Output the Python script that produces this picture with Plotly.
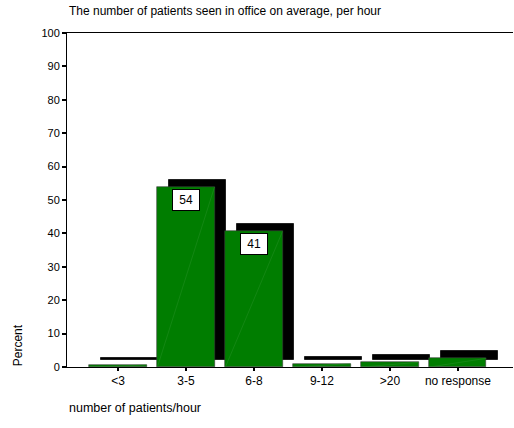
import plotly.graph_objects as go

categories = ["<3", "3-5", "6-8", "9-12", ">20", "no response"]
percent = [0.6, 53.9, 40.6, 1.0, 1.4, 2.6]
labels = ["", "54", "41", "", "", ""]
title_text = "The number of patients seen in office on average, per hour"
x_title = "number of patients/hour"
y_title = "Percent"

BAR_W = 0.84
SHADOW_DX = 0.17   # category units
SHADOW_DY = 2.1    # percent units

FONT = "Liberation Sans, Arial, sans-serif"

fig = go.Figure()
# 3D shadow behind bars
fig.add_trace(go.Bar(
    x=categories, y=percent, base=SHADOW_DY,
    width=BAR_W, offset=-BAR_W / 2 + SHADOW_DX,
    marker=dict(color="black", line=dict(color="#222222", width=1)),
    hoverinfo="skip", showlegend=False,
))
# front bars
fig.add_trace(go.Bar(
    x=categories, y=percent,
    width=BAR_W, offset=-BAR_W / 2,
    marker=dict(color="#007d00", line=dict(color="#3a3a3a", width=0.6)),
    showlegend=False,
))

# faint diagonal rendering artifacts inside the bars
for i, v in enumerate(percent):
    fig.add_shape(type="line", xref="x", yref="y",
                  x0=i - BAR_W / 2, y0=0, x1=i + BAR_W / 2, y1=v,
                  line=dict(color="#269026", width=0.5))

for c, v, t in zip(categories, percent, labels):
    if t:
        fig.add_annotation(
            x=c, y=v, xref="x", yref="y", text="&nbsp;" + t + "&nbsp;",
            showarrow=False, yanchor="top", yshift=-2,
            bgcolor="white", bordercolor="black", borderwidth=1, borderpad=3,
            font=dict(family=FONT, size=12, color="black"),
        )

fig.add_annotation(text=title_text, xref="paper", yref="paper", x=0, y=1,
                   xanchor="left", yanchor="bottom", xshift=0, yshift=13,
                   showarrow=False, font=dict(family=FONT, size=12, color="black"))
fig.add_annotation(text=x_title, xref="paper", yref="paper", x=0, y=0,
                   xanchor="left", yanchor="middle", yshift=-41,
                   showarrow=False, font=dict(family=FONT, size=12.5, color="black"))
fig.add_annotation(text=y_title, xref="paper", yref="y", x=0, y=6.5,
                   xanchor="center", yanchor="middle", xshift=-49, textangle=-90,
                   showarrow=False, font=dict(family=FONT, size=12, color="black"))

fig.update_layout(
    width=514, height=428,
    margin=dict(l=67, r=1, t=33, b=61),
    paper_bgcolor="white", plot_bgcolor="white",
    barmode="overlay", bargap=0,
    font=dict(family=FONT, size=12, color="black"),
    xaxis=dict(
        range=[-0.75, 5.81], showline=True, linecolor="black", linewidth=1,
        mirror=True, ticks="outside", ticklen=3, tickwidth=2, tickcolor="black",
        showgrid=False, zeroline=False, tickfont=dict(size=12),
    ),
    yaxis=dict(
        range=[0, 100], dtick=10, showline=True, linecolor="black", linewidth=1,
        ticks="outside", ticklen=4, tickwidth=2, tickcolor="black",
        showgrid=False, zeroline=False, tickfont=dict(size=11),
    ),
)

fig.write_html("out.html", config={"displayModeBar": False},
               post_script="document.body.style.margin='0';document.body.style.padding='0';")
